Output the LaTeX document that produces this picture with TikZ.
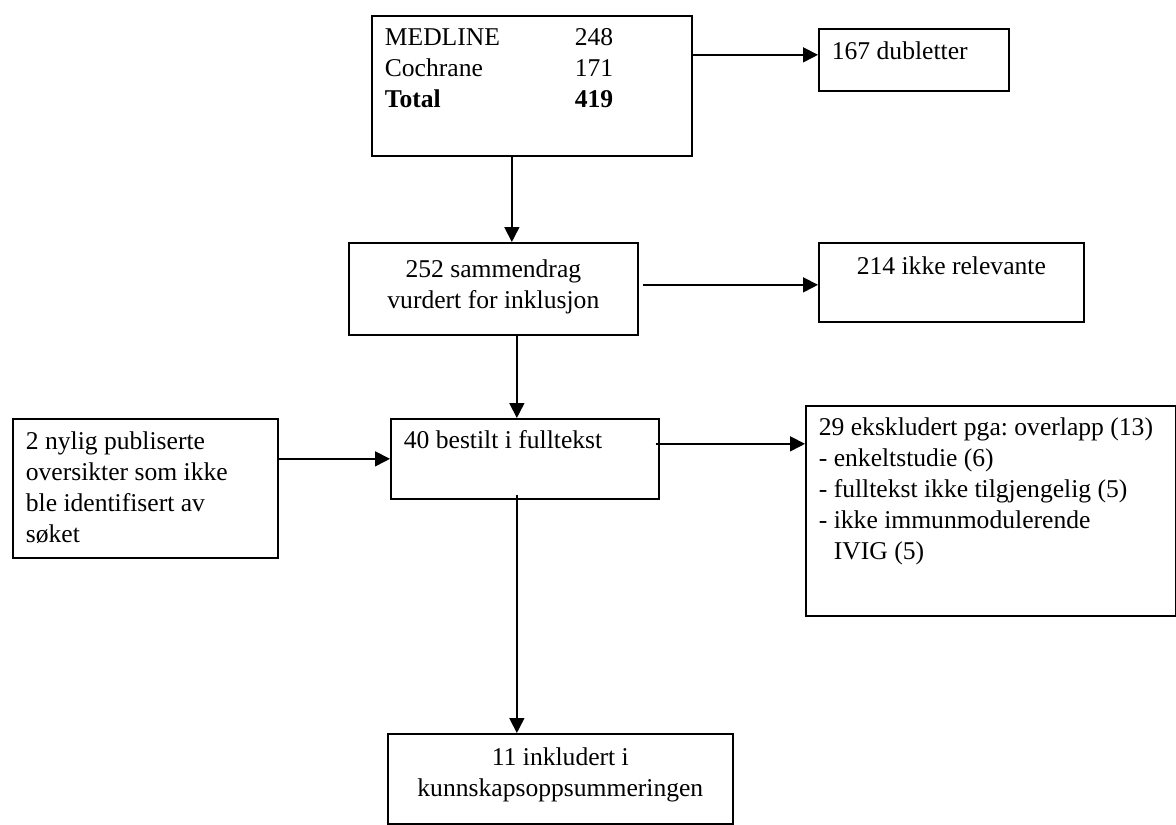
\documentclass[tikz,border=0pt]{standalone}
\usepackage{fontspec}
\setmainfont{Liberation Serif}
\usetikzlibrary{calc,arrows.meta}
% text block of a box: width, height, top gap, content
\newcommand{\boxtext}[4]{\parbox[t][#2][t]{#1}{\frenchspacing\vspace*{#3}#4}}

\begin{document}
\begin{tikzpicture}[x=0.5pt,y=-0.5pt,
  box/.style={draw,line width=0.85pt,inner xsep=6.5pt,inner ysep=0pt,anchor=north west,
              font=\fontsize{12.8}{15.5}\selectfont},
  arr/.style={-{Triangle[length=7.5pt,width=7.5pt]},line width=0.85pt}]
  \useasboundingbox (0,0) rectangle (1176,824);
  % search results and the boxes beside the main column
  \node[box,minimum width=160pt,minimum height=70pt] (src) at (371,15)
    {\boxtext{147pt}{70pt}{6.5pt}{\raggedright
      \makebox[95pt][l]{MEDLINE}248\\
      \makebox[95pt][l]{Cochrane}171\\
      \textbf{\makebox[95pt][l]{Total}419}}};
  \node[box,minimum width=95pt,minimum height=31pt] (dub) at (818,28)
    {\boxtext{82pt}{31pt}{6.5pt}{\raggedright 167 dubletter}};
  \node[box,minimum width=144.5pt,minimum height=46pt] (abs) at (348,242)
    {\boxtext{131.5pt}{46pt}{8.5pt}{\centering 252 sammendrag\\vurdert for inklusjon}};
  \node[box,minimum width=132.5pt,minimum height=39.5pt] (irr) at (818,242)
    {\boxtext{119.5pt}{39.5pt}{7pt}{\centering 214 ikke relevante}};
  \node[box,minimum width=132.5pt,minimum height=69.5pt] (new) at (12,418)
    {\boxtext{119.5pt}{69.5pt}{6.5pt}{\raggedright 2 nylig publiserte\\
      oversikter som ikke\\ble identifisert av\\søket}};
  \node[box,minimum width=134pt,minimum height=40pt] (ord) at (390,418)
    {\boxtext{121pt}{40pt}{6pt}{\raggedright 40 bestilt i fulltekst}};
  \node[box,minimum width=185pt,minimum height=105pt] (exc) at (805,405)
    {\boxtext{172pt}{105pt}{6pt}{\raggedright 29 ekskludert pga: overlapp (13)\\
      - enkeltstudie (6)\\- fulltekst ikke tilgjengelig (5)\\
      - ikke immunmodulerende\\\hspace*{7.5pt}IVIG (5)}};
  \node[box,minimum width=172.5pt,minimum height=45pt] (inc) at (387,733)
    {\boxtext{159.5pt}{45pt}{7pt}{\centering 11 inkludert i\\kunnskapsoppsummeringen}};
  % connectors
  \coordinate (a1) at ($(dub.west)+(0,-5)$);
  \draw[arr] (src.east |- a1) -- (a1);
  \coordinate (a2) at ([xshift=-10pt]src.south);
  \draw[arr] (a2) -- (a2 |- abs.north);
  \coordinate (a3) at ([xshift=2pt,yshift=2pt]abs.east);
  \draw[arr] (a3) -- (a3 -| irr.west);
  \coordinate (a4) at ([xshift=-4pt]ord.north);
  \draw[arr] (a4 |- abs.south) -- (a4);
  \draw[arr] (new.east |- ord.west) -- (ord.west);
  \coordinate (a5) at ([xshift=-2pt,yshift=7.5pt]ord.east);
  \draw[arr] (a5) -- (a5 -| exc.west);
  \coordinate (a6) at ([xshift=-4pt,yshift=2.5pt]ord.south);
  \draw[arr] (a6) -- (a6 |- inc.north);
\end{tikzpicture}
\end{document}
